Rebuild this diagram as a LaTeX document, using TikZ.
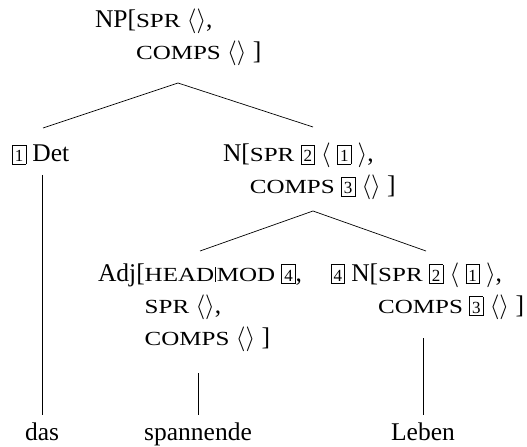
\documentclass[tikz,border=0pt]{standalone}
\usepackage{fontspec}
\setmainfont{Liberation Serif}
\newfontfamily\scfont[FakeStretch=1.25]{Liberation Serif}
\usetikzlibrary{calc}

% feature names in (synthetic) small capitals
\newcommand\feat[1]{{\scfont\fontsize{20bp}{20bp}\selectfont #1}}
% path separator between feature names
\newcommand\fpath{\kern1bp\rule[-0.5bp]{0.6bp}{15bp}\kern1bp}
% boxed structure-sharing tags
\newcommand\tagbox[1]{{\setlength\fboxsep{2.2bp}\setlength\fboxrule{0.6bp}%
  \fbox{\rule{0pt}{14bp}\fontsize{17bp}{17bp}\selectfont #1}}}
% stacked feature lines of an attribute-value bracket
\newcommand\avmlines[1]{\vtop{\baselineskip=32bp\lineskiplimit=-100bp\lineskip=0bp #1}}
\newcommand\lst[1]{$\langle$#1$\rangle$}

\begin{document}
\begin{tikzpicture}[x=1bp,y=-1bp,
  every node/.style={inner sep=0pt,outer sep=0pt,font=\fontsize{25.5bp}{32bp}\selectfont},
  cat/.style={anchor=base west},
  word/.style={anchor=base},
  branch/.style={line width=0.7bp,black}]
\useasboundingbox (0,0) rectangle (527,447);

% categories
\node[cat] (np) at (95,28) {NP[\avmlines{\hbox{\feat{SPR} \lst{},}\hbox{\feat{COMPS} \lst{} ]}}};
\node[cat] (det) at (12,162) {\tagbox{1} Det};
\node[cat] (nbar) at (223,162) {N[\avmlines{\hbox{\feat{SPR} \tagbox{2} \lst{ \tagbox{1} },}\hbox{\feat{COMPS} \tagbox{3} \lst{} ]}}};
\node[cat] (adj) at (98,281) {Adj[\avmlines{\hbox{\feat{HEAD}\fpath\feat{MOD} \tagbox{4},}\hbox{\feat{SPR} \lst{},}\hbox{\feat{COMPS} \lst{} ]}}};
\node[cat,anchor=base east] (n) at (524,281) {\tagbox{4} N[\avmlines{\hbox{\feat{SPR} \tagbox{2} \lst{ \tagbox{1} },}\hbox{\feat{COMPS} \tagbox{3} \lst{} ]}}};

% words
\node[word] (das) at (42,440) {das};
\node[word] (spannende) at (198,440) {spannende};
\node[word] (leben) at (423,440) {Leben};

% branch end points
\coordinate (np-root) at (178,83);
\coordinate (det-top) at (43,128);
\coordinate (nbar-top) at (313,127);
\coordinate (nbar-root) at (313,211);
\coordinate (adj-top) at (200,251);
\coordinate (n-top) at (426,251);
\coordinate (det-bot) at (42,175);
\coordinate (adj-bot) at (198,373);
\coordinate (n-bot) at (423,338);
\coordinate (das-top) at (42,415);
\coordinate (spannende-top) at (198,415);
\coordinate (leben-top) at (423,415);

\draw[branch] (det-top) -- (np-root) -- (nbar-top);
\draw[branch] (adj-top) -- (nbar-root) -- (n-top);
\draw[branch] (det-bot) -- (das-top);
\draw[branch] (adj-bot) -- (spannende-top);
\draw[branch] (n-bot) -- (leben-top);
\end{tikzpicture}
\end{document}
